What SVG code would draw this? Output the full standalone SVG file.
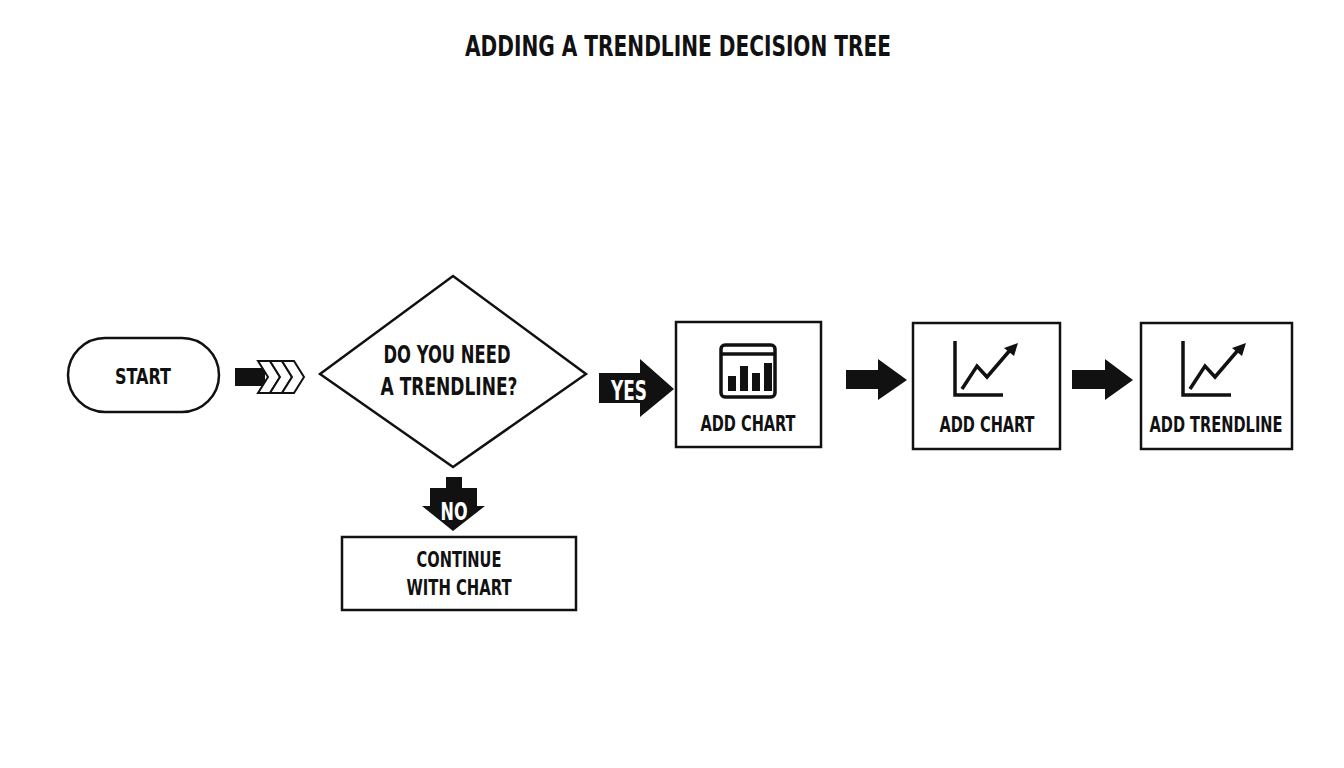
<svg xmlns="http://www.w3.org/2000/svg" width="1344" height="768" viewBox="0 0 1344 768">
<style>
text{font-family:"DejaVu Sans Condensed","DejaVu Sans","Liberation Sans",sans-serif;font-stretch:condensed;font-weight:bold;fill:#111;text-anchor:middle}
.n{fill:#fff;stroke:#111;stroke-width:2.5}
.ic{fill:none;stroke:#111;stroke-width:3.5}
.t{font-size:22px}
.w{fill:#fff}
</style>
<rect width="1344" height="768" fill="#fff"/>
<text x="678" y="56" font-size="28" textLength="426" lengthAdjust="spacingAndGlyphs">ADDING A TRENDLINE DECISION TREE</text>
<g id="start"><rect class="n" x="68" y="338" width="151" height="74" rx="37"/><text class="t" x="143" y="384" textLength="56" lengthAdjust="spacingAndGlyphs">START</text></g>
<g id="decision"><path class="n" d="M320,374 L453,276 L586,374 L453,467z"/>
<text x="447" y="363" font-size="25" textLength="127" lengthAdjust="spacingAndGlyphs">DO YOU NEED</text><text x="449" y="395" font-size="25" textLength="137" lengthAdjust="spacingAndGlyphs">A TRENDLINE?</text></g>
<g id="add-chart-1"><rect class="n" x="676" y="322" width="145" height="125"/>
<rect class="ic" x="721" y="345" width="54" height="52" rx="4"/><line class="ic" x1="721" y1="354" x2="775" y2="354"/>
<g fill="#111"><rect x="728" y="376" width="8" height="15"/><rect x="740" y="366" width="8" height="25"/><rect x="752" y="373" width="8" height="18"/><rect x="764" y="363" width="8" height="28"/></g>
<text class="t" x="748" y="431" textLength="95" lengthAdjust="spacingAndGlyphs">ADD CHART</text></g>
<g id="add-chart-2"><rect class="n" x="913" y="323" width="147" height="126"/>
<path class="ic" d="M955,341 V395 H1003"/><path class="ic" d="M962,389 L977,366 L987,377 L1011,349"/><path d="M1018,343 L1004,348 L1014,356z" fill="#111"/>
<text class="t" x="987" y="432" textLength="95" lengthAdjust="spacingAndGlyphs">ADD CHART</text></g>
<g id="add-trendline"><rect class="n" x="1141" y="323" width="151" height="126"/>
<path class="ic" d="M1183,341 V395 H1231"/><path class="ic" d="M1190,389 L1205,366 L1215,377 L1239,349"/><path d="M1246,343 L1232,348 L1242,356z" fill="#111"/>
<text class="t" x="1216" y="432" textLength="133" lengthAdjust="spacingAndGlyphs">ADD TRENDLINE</text></g>
<g id="continue"><rect class="n" x="342" y="537" width="234" height="73"/>
<text class="t" x="459" y="567" textLength="85" lengthAdjust="spacingAndGlyphs">CONTINUE</text><text class="t" x="459" y="595" textLength="105" lengthAdjust="spacingAndGlyphs">WITH CHART</text></g>
<g id="connectors">
<rect x="235" y="368" width="30" height="18" fill="#111"/>
<g fill="#fff" stroke="#111" stroke-width="2">
<path d="M258,361 h12 l10,16 l-10,16 h-12 l10,-16z"/>
<path d="M270,361 h12 l10,16 l-10,16 h-12 l10,-16z"/>
<path d="M282,361 h12 l10,16 l-10,16 h-12 l10,-16z"/>
</g>
<path fill="#111" d="M846,370 L878,370 L878,359 L907,380 L878,400 L878,389 L846,389 Z"/>
<path fill="#111" d="M1072,370 L1105,370 L1105,359 L1133,380 L1105,400 L1105,389 L1072,389 Z"/>
<path fill="#111" d="M599,373 h41 v-14 l34,30 l-34,28 v-14 h-41z"/>
<path fill="#111" d="M446,477 h16 v11 h15 v18 h8 l-32,25 l-31,-25 h8 v-18 h16z"/>
<text class="w" x="629" y="400" font-size="26" textLength="36" lengthAdjust="spacingAndGlyphs">YES</text>
<text class="w" x="454" y="520" font-size="24" textLength="27" lengthAdjust="spacingAndGlyphs">NO</text>
</g>
</svg>
